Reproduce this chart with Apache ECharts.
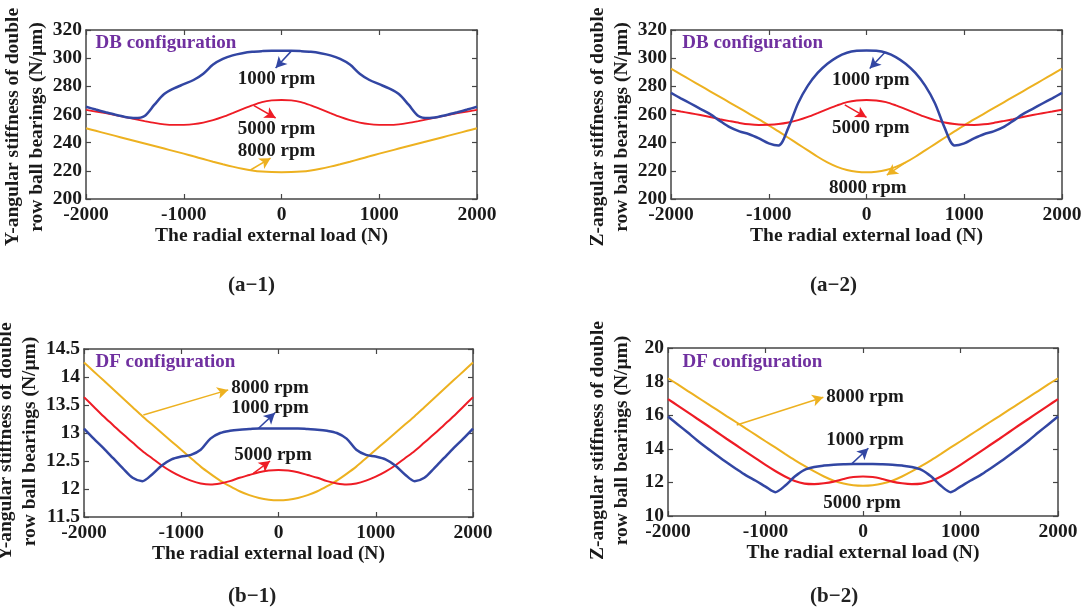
<!DOCTYPE html>
<html>
<head>
<meta charset="utf-8">
<script src="https://cdn.jsdelivr.net/npm/echarts@6/dist/echarts.min.js"></script>
<style>
html, body { margin: 0; padding: 0; background: #ffffff; }
#main { width: 1085px; height: 612px; }
</style>
</head>
<body>
<div id="main"></div>
<script>
// radial external load (N), shared by all four panels
let loads = [-2000, -1900, -1800, -1700, -1600, -1500, -1400, -1300, -1200, -1100, -1000, -900, -800, -700, -600, -500, -400, -300, -200, -100, 0,
    100, 200, 300, 400, 500, 600, 700, 800, 900, 1000, 1100, 1200, 1300, 1400, 1500, 1600, 1700, 1800, 1900, 2000]

// (a-1) Y-angular stiffness, DB configuration
let a1Rpm1000 = [265.5, 263.5, 261.6, 259.8, 258.3, 257.5, 259, 267, 274.5, 278.5, 281.5, 284.5, 289, 295.5, 299.5, 302, 303.5, 304.5, 305, 305.3, 305.3,
    305.3, 305, 304.5, 303.5, 302, 299.5, 295.5, 289, 284.5, 281.5, 278.5, 274.5, 267, 259, 257.5, 258.3, 259.8, 261.6, 263.5, 265.5]
let a1Rpm5000 = [263.3, 262.1, 260.9, 259.6, 258.2, 256.7, 255.3, 254, 253, 252.6, 252.7, 253.2, 254.3, 256, 258.3, 261, 263.8, 266.5, 268.8, 270, 270.3,
    270, 268.8, 266.5, 263.8, 261, 258.3, 256, 254.3, 253.2, 252.7, 252.6, 253, 254, 255.3, 256.7, 258.2, 259.6, 260.9, 262.1, 263.3]
let a1Rpm8000 = [250.2, 248.4, 246.6, 244.8, 243, 241.2, 239.4, 237.6, 235.8, 234, 232.2, 230.3, 228.4, 226.5, 224.7, 223, 221.5, 220.3, 219.5, 219.1, 219,
    219.1, 219.5, 220.3, 221.5, 223, 224.7, 226.5, 228.4, 230.3, 232.2, 234, 235.8, 237.6, 239.4, 241.2, 243, 244.8, 246.6, 248.4, 250.2]

// (a-2) Z-angular stiffness, DB configuration
let a2Rpm1000 = [275.3, 271.5, 267.8, 264, 260.3, 255.5, 251, 248, 246, 243, 239.5, 238, 250.5, 268, 280.5, 289.5, 296, 300.8, 303.8, 305.2, 305.5,
    305.2, 303.8, 300.8, 296, 289.5, 280.5, 268, 250.5, 238, 239.5, 243, 246, 248, 251, 255.5, 260.3, 264, 267.8, 271.5, 275.3]
let a2Rpm5000 = [263.3, 262.1, 260.9, 259.6, 258.2, 256.7, 255.3, 254, 253, 252.6, 252.7, 253.2, 254.3, 256, 258.3, 261, 263.8, 266.5, 268.8, 270, 270.3,
    270, 268.8, 266.5, 263.8, 261, 258.3, 256, 254.3, 253.2, 252.7, 252.6, 253, 254, 255.3, 256.7, 258.2, 259.6, 260.9, 262.1, 263.3]
let a2Rpm8000 = [292.5, 288.5, 284.5, 280.5, 276.5, 272.5, 268.5, 264.5, 260.5, 256.5, 252.3, 248, 243.5, 239, 234.5, 230, 226, 222.8, 220.6, 219.4, 219,
    219.4, 220.6, 222.8, 226, 230, 234.5, 239, 243.5, 248, 252.3, 256.5, 260.5, 264.5, 268.5, 272.5, 276.5, 280.5, 284.5, 288.5, 292.5]

// (b-1) Y-angular stiffness, DF configuration
let b1Rpm1000 = [13.08, 12.9, 12.73, 12.55, 12.37, 12.2, 12.14, 12.26, 12.42, 12.53, 12.58, 12.61, 12.7, 12.9, 13.0, 13.04, 13.06, 13.07, 13.08, 13.08, 13.08,
    13.08, 13.08, 13.07, 13.06, 13.04, 13.0, 12.9, 12.7, 12.61, 12.58, 12.53, 12.42, 12.26, 12.14, 12.2, 12.37, 12.55, 12.73, 12.9, 13.08]
let b1Rpm5000 = [13.64, 13.47, 13.3, 13.14, 12.98, 12.83, 12.68, 12.55, 12.42, 12.31, 12.22, 12.15, 12.1, 12.08, 12.1, 12.14, 12.2, 12.25, 12.3, 12.33, 12.34,
    12.33, 12.3, 12.25, 12.2, 12.14, 12.1, 12.08, 12.1, 12.15, 12.22, 12.31, 12.42, 12.55, 12.68, 12.83, 12.98, 13.14, 13.3, 13.47, 13.64]
let b1Rpm8000 = [14.26, 14.1, 13.94, 13.78, 13.62, 13.46, 13.3, 13.15, 13.0, 12.85, 12.7, 12.55, 12.4, 12.27, 12.15, 12.05, 11.96, 11.89, 11.84, 11.81, 11.8,
    11.81, 11.84, 11.89, 11.96, 12.05, 12.15, 12.27, 12.4, 12.55, 12.7, 12.85, 13.0, 13.15, 13.3, 13.46, 13.62, 13.78, 13.94, 14.1, 14.26]

// (b-2) Z-angular stiffness, DF configuration
let b2Rpm1000 = [15.92, 15.45, 14.98, 14.5, 14.05, 13.62, 13.2, 12.8, 12.42, 12.1, 11.75, 11.42, 11.8, 12.35, 12.75, 12.92, 13.0, 13.05, 13.08, 13.1, 13.1,
    13.1, 13.08, 13.05, 13.0, 12.92, 12.75, 12.35, 11.8, 11.42, 11.75, 12.1, 12.42, 12.8, 13.2, 13.62, 14.05, 14.5, 14.98, 15.45, 15.92]
let b2Rpm5000 = [16.96, 16.57, 16.18, 15.79, 15.4, 15.0, 14.6, 14.21, 13.82, 13.43, 13.04, 12.68, 12.35, 12.08, 11.93, 11.9, 11.95, 12.05, 12.2, 12.32, 12.35,
    12.32, 12.2, 12.05, 11.95, 11.9, 11.93, 12.08, 12.35, 12.68, 13.04, 13.43, 13.82, 14.21, 14.6, 15.0, 15.4, 15.79, 16.18, 16.57, 16.96]
let b2Rpm8000 = [18.2, 17.83, 17.45, 17.08, 16.7, 16.33, 15.95, 15.58, 15.2, 14.83, 14.45, 14.08, 13.7, 13.33, 12.98, 12.65, 12.35, 12.1, 11.93, 11.83, 11.8,
    11.83, 11.93, 12.1, 12.35, 12.65, 12.98, 13.33, 13.7, 14.08, 14.45, 14.83, 15.2, 15.58, 15.95, 16.33, 16.7, 17.08, 17.45, 17.83, 18.2]

let speedNames = ['1000 rpm', '5000 rpm', '8000 rpm']
let captions = ['a\u22121', 'a\u22122', 'b\u22121', 'b\u22122']

const FONT = '"Liberation Serif", "Times New Roman", serif'
const INK = '#1a1a1a'
const BOX = '#454545'
const BLUE = '#3246a3'
const RED = '#ee1c25'
const YELLOW = '#edb120'
const PURPLE = '#7030a0'

function pairs (vals) {
    return loads.map((x, i) => [x, vals[i]])
}

let grids = [
    { left: 86, top: 30, width: 391, height: 169, outerBoundsMode: 'none', containLabel: false },
    { left: 671, top: 30, width: 391, height: 169, outerBoundsMode: 'none', containLabel: false },
    { left: 84, top: 349, width: 389, height: 168, outerBoundsMode: 'none', containLabel: false },
    { left: 668, top: 348, width: 390, height: 168, outerBoundsMode: 'none', containLabel: false },
]

let yRanges = [[200, 320, 20], [200, 320, 20], [11.5, 14.5, 0.5], [10, 20, 2]]
let yNames = [
    'Y-angular stiffness of double\nrow ball bearings (N/\u03bcm)',
    'Z-angular stiffness of double\nrow ball bearings (N/\u03bcm)',
    'Y-angular stiffness of double\nrow ball bearings (N/\u03bcm)',
    'Z-angular stiffness of double\nrow ball bearings (N/\u03bcm)',
]

let boxLine = { show: true, onZero: false, lineStyle: { color: BOX, width: 1.5 } }
let boxTick = { show: true, inside: true, length: 5, lineStyle: { color: BOX, width: 1.2 } }
let tickText = { fontFamily: FONT, fontWeight: 'bold', fontSize: 19.5, color: INK, formatter: v => String(v) }

let xAxes = []
let yAxes = []
grids.forEach((g, i) => {
    let shiftLeft = (i === 0 || i === 2)
    xAxes.push({
        gridIndex: i, type: 'value', position: 'bottom',
        min: -2000, max: 2000, interval: 1000,
        name: 'The radial external load (N)', nameLocation: 'middle', nameGap: 27,
        nameTextStyle: { fontFamily: FONT, fontWeight: 'bold', fontSize: 19.5, color: INK, padding: shiftLeft ? [0, 20, 0, 0] : 0 },
        axisLine: boxLine, axisTick: boxTick, splitLine: { show: false },
        axisLabel: Object.assign({ margin: 6 }, tickText),
    })
    xAxes.push({
        gridIndex: i, type: 'value', position: 'top',
        min: -2000, max: 2000, interval: 1000,
        axisLine: boxLine, axisTick: boxTick, splitLine: { show: false }, axisLabel: { show: false },
    })
    let r = yRanges[i]
    yAxes.push({
        gridIndex: i, type: 'value', position: 'left',
        min: r[0], max: r[1], interval: r[2],
        name: yNames[i], nameLocation: 'middle', nameGap: 34,
        nameTextStyle: { fontFamily: FONT, fontWeight: 'bold', fontSize: 19.5, lineHeight: 24, color: INK, padding: [0, i < 2 ? 25 : 17, 0, 0] },
        axisLine: boxLine, axisTick: boxTick, splitLine: { show: false },
        axisLabel: Object.assign({ margin: 4 }, tickText),
    })
    yAxes.push({
        gridIndex: i, type: 'value', position: 'right',
        min: r[0], max: r[1], interval: r[2],
        axisLine: boxLine, axisTick: boxTick, splitLine: { show: false }, axisLabel: { show: false },
    })
})

function arrow (color, from, to) {
    return {
        silent: true,
        symbol: ['none', 'arrow'],
        symbolSize: [9, 11],
        lineStyle: { color: color, width: 1.5, type: 'solid' },
        label: { show: false },
        data: [[{ coord: from }, { coord: to }]],
    }
}

function textMark (name, coord, color, left) {
    return {
        name: name,
        coord: coord,
        label: {
            show: true,
            position: left ? 'right' : 'inside',
            distance: 0,
            formatter: '{b}',
            fontFamily: FONT,
            fontWeight: 'bold',
            fontSize: 19,
            color: color,
        },
    }
}

function texts (items) {
    return {
        silent: true,
        symbol: 'rect',
        symbolSize: 1,
        itemStyle: { color: 'rgba(0,0,0,0)' },
        data: items,
    }
}

function line (panel, name, vals, color, width, extra) {
    return Object.assign({
        name: name,
        type: 'line',
        xAxisIndex: panel * 2,
        yAxisIndex: panel * 2,
        data: pairs(vals),
        showSymbol: false,
        symbol: 'none',
        smooth: 0.3,
        lineStyle: { color: color, width: width },
        itemStyle: { color: color },
    }, extra || {})
}

let series = [
    // (a-1)
    line(0, speedNames[2], a1Rpm8000, YELLOW, 2, { markLine: arrow(YELLOW, [-317, 220.6], [-112, 229]) }),
    line(0, speedNames[1], a1Rpm5000, RED, 1.8, { markLine: arrow(RED, [-286, 266.5], [-60, 257.5]) }),
    line(0, speedNames[0], a1Rpm1000, BLUE, 2.5, {
        markLine: arrow(BLUE, [100, 305], [-60, 293]),
        markPoint: texts([
            textMark('DB configuration', [-1908, 310.8], PURPLE, true),
            textMark(speedNames[0], [-50, 285.2], INK),
            textMark(speedNames[1], [-50, 249.7], INK),
            textMark(speedNames[2], [-50, 234], INK),
        ]),
    }),
    // (a-2)
    line(1, speedNames[2], a2Rpm8000, YELLOW, 2, { markLine: arrow(YELLOW, [400, 226], [208, 217]) }),
    line(1, speedNames[1], a2Rpm5000, RED, 2, { markLine: arrow(RED, [-222, 266.8], [0, 258]) }),
    line(1, speedNames[0], a2Rpm1000, BLUE, 2.5, {
        markLine: arrow(BLUE, [187, 304], [33, 292.6]),
        markPoint: texts([
            textMark('DB configuration', [-1890, 310.8], PURPLE, true),
            textMark(speedNames[0], [44, 284.5], INK),
            textMark(speedNames[1], [44, 250.4], INK),
            textMark(speedNames[2], [13, 207.8], INK),
        ]),
    }),
    // (b-1)
    line(2, speedNames[2], b1Rpm8000, YELLOW, 2, { markLine: arrow(YELLOW, [-1390, 13.32], [-517, 13.77]) }),
    line(2, speedNames[1], b1Rpm5000, RED, 2, { markLine: arrow(RED, [-259, 12.28], [-87, 12.5]) }),
    line(2, speedNames[0], b1Rpm1000, BLUE, 2.5, {
        markLine: arrow(BLUE, [-208, 13.08], [-36, 13.36]),
        markPoint: texts([
            textMark('DF configuration', [-1887, 14.27], PURPLE, true),
            textMark(speedNames[2], [-87, 13.8], INK),
            textMark(speedNames[0], [-87, 13.45], INK),
            textMark(speedNames[1], [-57, 12.61], INK),
        ]),
    }),
    // (b-2)
    line(3, speedNames[2], b2Rpm8000, YELLOW, 2, { markLine: arrow(YELLOW, [-1295, 15.42], [-407, 17.07]) }),
    line(3, speedNames[1], b2Rpm5000, RED, 2.2),
    line(3, speedNames[0], b2Rpm1000, BLUE, 2.5, {
        markLine: arrow(BLUE, [-116, 13.1], [55, 14.03]),
        markPoint: texts([
            textMark('DF configuration', [-1856, 19.17], PURPLE, true),
            textMark(speedNames[2], [21, 17.08], INK),
            textMark(speedNames[0], [21, 14.52], INK),
            textMark(speedNames[1], [-10, 10.77], INK),
        ]),
    }),
]

let captionPos = [[228, 275], [810, 275], [228, 586], [810, 586]]
let titles = captions.map((c, i) => ({
    text: '{p|(}{b|' + c + '}{p|)}',
    left: captionPos[i][0],
    top: captionPos[i][1],
    padding: 0,
    textStyle: {
        rich: {
            p: { fontFamily: FONT, fontSize: 21, color: '#222' },
            b: { fontFamily: FONT, fontSize: 21, fontWeight: 'bold', color: '#222' },
        },
    },
}))

let option = {
    backgroundColor: '#ffffff',
    animation: false,
    title: titles,
    grid: grids,
    xAxis: xAxes,
    yAxis: yAxes,
    series: series,
}

let myChart = echarts.init(document.getElementById('main'))
myChart.setOption(option)
</script>
</body>
</html>
